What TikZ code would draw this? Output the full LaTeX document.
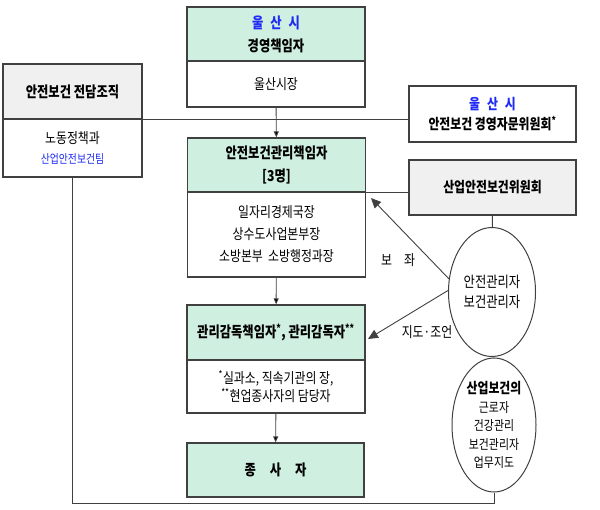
\documentclass[tikz,border=0pt]{standalone}
\usepackage{fontspec}
\setmainfont{Noto Sans CJK KR}[FakeStretch=0.82]
\usetikzlibrary{arrows.meta,shapes.geometric}
\definecolor{mint}{HTML}{CFEFE1}
\definecolor{pale}{HTML}{F0F0F0}
\definecolor{edgec}{HTML}{404040}
\definecolor{krblue}{HTML}{1F2BF5}

\begin{document}
\begin{tikzpicture}[x=1pt,y=-1pt,
  box/.style={draw=edgec,line width=1.3pt,inner sep=0pt,align=center,minimum width=178},
  head/.style={box,fill=mint,font=\bfseries\fontsize{15}{23}\selectfont},
  body/.style={box,fill=white,font=\fontsize{14.5}{22}\selectfont},
  conn/.style={draw=edgec,line width=0.9pt},
  tip/.style={-{Triangle[length=6pt,width=5pt]}},
  bigtip/.style={-{Triangle[length=10pt,width=9pt]}},
  oval/.style={ellipse,draw=edgec,line width=1pt,inner sep=0pt,align=center}]
  \useasboundingbox (0,0) rectangle (600,510);

  % central chain
  \node[head,minimum height=54] (B1h) at (276,34) {\textcolor{krblue}{울\hspace{7pt}산\hspace{7pt}시}\\경영책임자};
  \node[body,minimum height=46] (B1b) at (276,84) {울산시장};
  \node[head,minimum height=54] (B2h) at (276.5,165) {안전보건관리책임자\\{[3명]}};
  \node[body,minimum height=85] (B2b) at (276.5,234.5) {일자리경제국장\\상수도사업본부장\\소방본부\ \ 소방행정과장};
  \node[head,minimum height=55] (B3h) at (276,332.5) {관리감독책임자\textsuperscript{*}, 관리감독자\textsuperscript{**}};
  \node[body,minimum height=53,font=\fontsize{14.5}{18}\selectfont] (B3b) at (276,386.5) {\textsuperscript{*}실과소, 직속기관의 장,\\\textsuperscript{**}현업종사자의 담당자};
  \node[head,minimum height=54,minimum width=177] (B4) at (275.5,470) {종\hspace{14pt}사\hspace{14pt}자};

  % side boxes
  \node[box,fill=pale,minimum width=139,minimum height=55,font=\bfseries\fontsize{15}{20}\selectfont] (L1h) at (72.5,91.5) {안전보건\ 전담조직};
  \node[box,fill=white,minimum width=139,minimum height=58,font=\fontsize{14.5}{20}\selectfont] (L1b) at (72.5,148) {노동정책과\\{\fontsize{12}{12}\selectfont\textcolor{krblue}{산업안전보건팀}}};
  \node[box,fill=white,minimum width=167,minimum height=56,font=\bfseries\fontsize{14.5}{20}\selectfont] (R1) at (492.5,114) {\textcolor{krblue}{울\hspace{7pt}산\hspace{7pt}시}\\안전보건\ 경영자문위원회\textsuperscript{*}};
  \node[box,fill=pale,minimum width=167,minimum height=55,font=\bfseries\fontsize{14.5}{20}\selectfont] (R2) at (492.5,187.5) {산업안전보건위원회};

  % ellipses
  \node[oval,minimum width=87,minimum height=129,font=\fontsize{15}{20}\selectfont] (E1) at (492,292) {안전관리자\\보건관리자};
  \node[oval,minimum width=84,minimum height=134,font=\fontsize{13.3}{18.5}\selectfont] (E2) at (494,425) {{\bfseries\fontsize{14.5}{18.5}\selectfont 산업보건의}\\근로자\\건강관리\\보건관리자\\업무지도};

  \coordinate (T1) at (371,198);
  \coordinate (T2) at (368,339);
  \coordinate (Bot) at (72.5,503);

  \draw[conn] (L1h.south east) -- (R1.west |- L1h.south east);
  \draw[conn] (B2h.south east) -- (R2.west |- B2h.south east);

  \path[conn,tip] (B1b) edge (B2h);
  \path[conn,tip] (B2b) edge (B3h);
  \path[conn,tip] (B3b) edge (B4);

  \draw[conn] (R2) -- (E1);
  \draw[conn] (E1) -- (E2);
  \draw[conn] (E2.south) |- (Bot) -- (L1b.south);

  \draw[conn,bigtip] (E1.163) -- (T1);
  \draw[conn,bigtip] (E1.178) -- (T2);
  \node[font=\fontsize{14.5}{16}\selectfont] (Lb1) at (398,260) {보\hspace{12pt}좌};
  \node[font=\fontsize{14.5}{16}\selectfont] (Lb2) at (427,332) {지도·조언};
\end{tikzpicture}
\end{document}
